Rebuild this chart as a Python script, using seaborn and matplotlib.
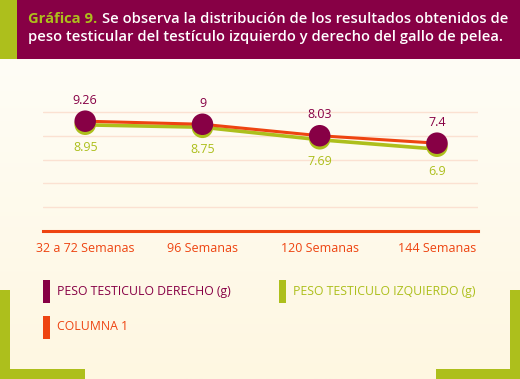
import numpy as np
import pandas as pd
import seaborn as sns
import matplotlib
matplotlib.use('Agg')
import matplotlib.pyplot as plt
from matplotlib import patheffects as pe
from matplotlib.patches import Rectangle

# Chart data
CATEGORIAS = ['32 a 72 Semanas', '96 Semanas', '120 Semanas', '144 Semanas']
DERECHO = [9.26, 9, 8.03, 7.4]
IZQUIERDO = [8.95, 8.75, 7.69, 6.9]
COLUMNA_1 = [9.26, 9, 8.03, 7.4]
Y_TICKS = [2, 4, 6, 8, 10]

MAROON = '#870045'
GREEN = '#adbf1c'
ORANGE = '#ee4411'
GRID = '#fbe1d2'

df = pd.DataFrame({
    'Semana': list(range(len(CATEGORIAS))) * 3,
    'Peso': DERECHO + IZQUIERDO + COLUMNA_1,
    'Serie': ['derecho'] * 4 + ['izquierdo'] * 4 + ['columna'] * 4,
})

sns.set_theme(style='white')
plt.rcParams['font.family'] = ['Open Sans', 'DejaVu Sans']

W, H = 520, 379
fig = plt.figure(figsize=(W / 100, H / 100), dpi=100)

# background gradient
bg = fig.add_axes([0, 0, 1, 1], zorder=-10)
grad = np.linspace(0, 1, 256).reshape(-1, 1)
cmap = matplotlib.colors.LinearSegmentedColormap.from_list('bg', ['#fffefa', '#fef7e1'])
bg.imshow(grad, aspect='auto', cmap=cmap, extent=[0, W, H, 0])
bg.set_xlim(0, W)
bg.set_ylim(H, 0)
bg.axis('off')

# banner and decorative bars
bg.add_patch(Rectangle((0, 0), W, 59, color=MAROON, lw=0))
bg.add_patch(Rectangle((0, 0), 17, 59, color=GREEN, lw=0))
bg.add_patch(Rectangle((0, 290), 10, 89, color=GREEN, lw=0))
bg.add_patch(Rectangle((0, 369), 85, 10, color=GREEN, lw=0))
bg.add_patch(Rectangle((510, 290), 10, 89, color=GREEN, lw=0))
bg.add_patch(Rectangle((436, 369), 84, 10, color=GREEN, lw=0))

# title
t1 = fig.text(28 / W, 1 - 19 / H, 'Gráfica 9.', color=GREEN, fontsize=10.6,
              fontweight='bold', va='center', ha='left')
fig.canvas.draw()
bb = t1.get_window_extent()
fig.text(bb.x1 / W + 5 / W, 1 - 19 / H,
         'Se observa la distribución de los resultados obtenidos de',
         color='white', fontsize=10.6, fontweight='semibold', va='center', ha='left')
fig.text(28 / W, 1 - 37 / H,
         'peso testicular del testículo izquierdo y derecho del gallo de pelea.',
         color='white', fontsize=10.6, fontweight='semibold', va='center', ha='left')

# plot area
ax = fig.add_axes([43 / W, (H - 230.7) / H, 435 / W, 136 / H])
ax.patch.set_alpha(0)
for y in Y_TICKS:
    ax.axhline(y, color=GRID, lw=1, zorder=0)

sns.lineplot(data=df[df.Serie == 'izquierdo'], x='Semana', y='Peso', color=GREEN,
             lw=2.6, ax=ax, zorder=2)
sns.lineplot(data=df[df.Serie == 'columna'], x='Semana', y='Peso', color=ORANGE,
             lw=2.2, ax=ax, zorder=3)
sns.scatterplot(data=df[df.Serie == 'derecho'], x='Semana', y='Peso', color=MAROON,
                s=240, edgecolor='none', ax=ax, zorder=4,
                path_effects=[pe.SimplePatchShadow(offset=(0, -2.2), shadow_rgbFace=GREEN, alpha=1),
                              pe.Normal()])

for i, v in enumerate(DERECHO):
    ax.annotate(f'{v:g}', (i, v), xytext=(0, 15), textcoords='offset points',
                ha='center', va='center', color=MAROON, fontsize=9)
for i, v in enumerate(IZQUIERDO):
    ax.annotate(f'{v:g}', (i, v), xytext=(0, -16), textcoords='offset points',
                ha='center', va='center', color=GREEN, fontsize=9)

ax.set_xlim(-0.36, 3.35)
ax.set_ylim(0, 11.5)
ax.set_xticks(range(len(CATEGORIAS)))
ax.set_xticklabels(CATEGORIAS, color=ORANGE, fontsize=9)
ax.tick_params(axis='x', length=0, pad=8)
ax.set_yticks([])
ax.set_xlabel('')
ax.set_ylabel('')
for s in ['left', 'right', 'top']:
    ax.spines[s].set_visible(False)
ax.spines['bottom'].set_color(ORANGE)
ax.spines['bottom'].set_linewidth(2.2)

# legend
legend_items = [
    (43, 291, MAROON, 'PESO TESTICULO DERECHO (g)'),
    (279, 291, GREEN, 'PESO TESTICULO IZQUIERDO (g)'),
    (43, 327, ORANGE, 'COLUMNA 1'),
]
for x, y, c, label in legend_items:
    bg.add_patch(Rectangle((x, y - 11.5), 7, 23, color=c, lw=0))
    bg.text(x + 14, y, label, color=c, fontsize=8.8, va='center', ha='left')

fig.savefig('out.png', dpi=100)
